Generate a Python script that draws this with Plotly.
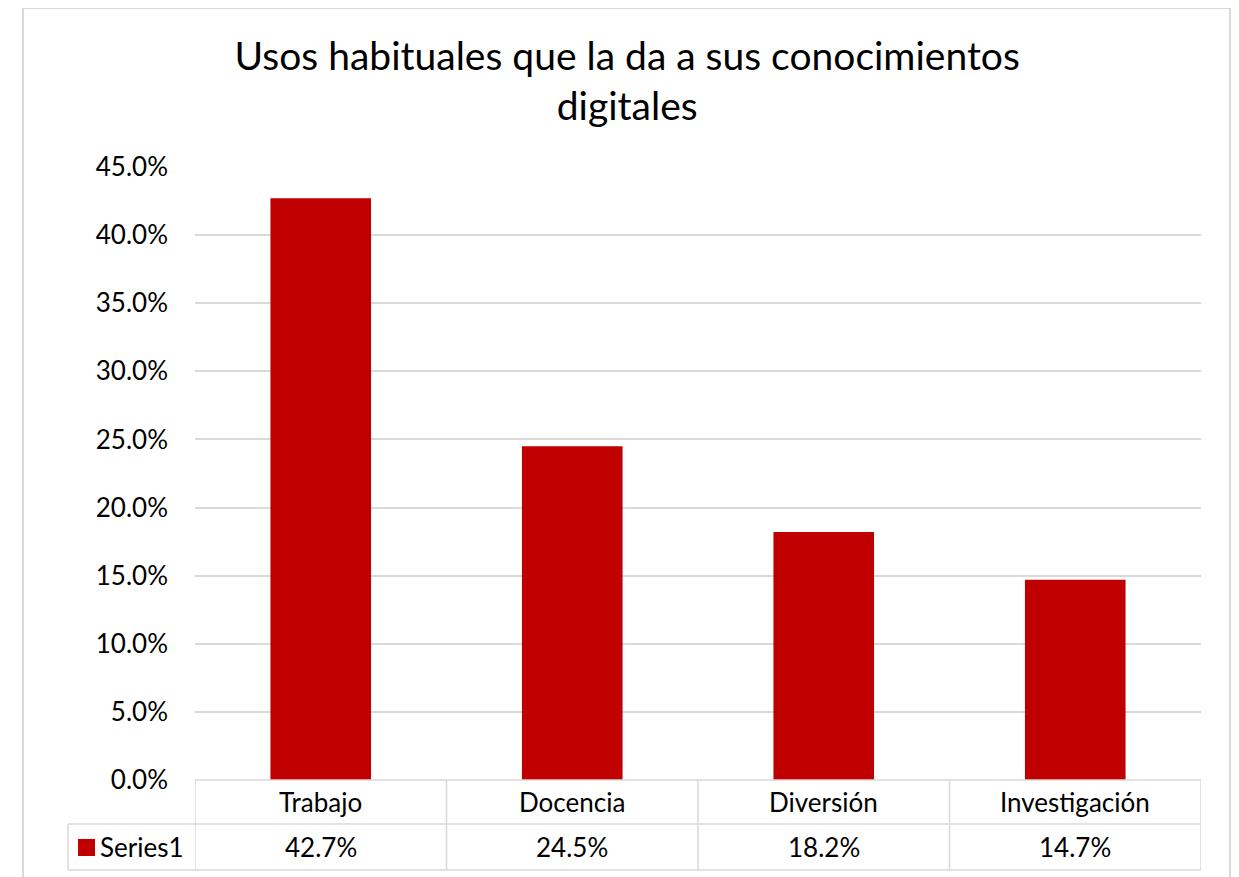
import plotly.graph_objects as go

categories = ['Trabajo', 'Docencia', 'Diversión', 'Investigación']
values = [42.7, 24.5, 18.2, 14.7]
series_name = 'Series1'
title = 'Usos habituales que la da a sus conocimientos<br>digitales'

red = '#C00000'
grid = '#d9d9d9'
font = 'Lato, Open Sans, sans-serif'

# page has an 8px body margin, so the figure is shrunk by that much
W, H = 1231, 869
L, R, T, B = 187, 38, 159, 97
plot_h = H - T - B
plot_w = W - L - R
OX, OY = 8 + L, 8 + T + plot_h  # screen pixel of plot origin


def py(sy):
    # screen pixel row -> paper y
    return (OY - sy) / plot_h


def px_x(sx):
    return (sx - OX) / plot_w


fig = go.Figure()

fig.add_trace(go.Bar(
    x=categories,
    y=values,
    marker=dict(color=red, line=dict(width=0)),
    name=series_name,
    showlegend=False,
    hovertemplate='%{x}: %{y:.1f}%<extra></extra>',
))

shapes = []
annotations = []

# outer chart border
shapes.append(dict(type='rect', xref='paper', yref='paper',
                   x0=px_x(23), x1=px_x(1230), y0=py(900), y1=py(8),
                   line=dict(color=grid, width=2), layer='below'))

# data table
row1_top, row1_bot, row2_bot = 780, 824, 870
n = len(categories)
line = dict(color=grid, width=1.5)
shapes.append(dict(type='line', xref='paper', yref='paper', x0=0, x1=1,
                   y0=py(row1_top), y1=py(row1_top), line=line))
for yy in (row1_bot, row2_bot):
    shapes.append(dict(type='line', xref='paper', yref='paper', x0=px_x(68), x1=1,
                       y0=py(yy), y1=py(yy), line=line))
shapes.append(dict(type='line', xref='paper', yref='paper', x0=px_x(68), x1=px_x(68),
                   y0=py(row1_bot), y1=py(row2_bot), line=line))
for i in range(n + 1):
    shapes.append(dict(type='line', xref='x', yref='paper', x0=i - 0.5, x1=i - 0.5,
                       y0=py(row1_top), y1=py(row2_bot), line=line))

cell_font = dict(size=26, color='#000')
for c, v in zip(categories, values):
    annotations.append(dict(x=c, xref='x', y=py((row1_top + row1_bot) / 2), yref='paper',
                            yanchor='middle', text=c, showarrow=False, font=cell_font))
    annotations.append(dict(x=c, xref='x', y=py((row1_bot + row2_bot) / 2), yref='paper',
                            yanchor='middle', text=f'{v:.1f}%', showarrow=False, font=cell_font))

# legend key in table
shapes.append(dict(type='rect', xref='paper', yref='paper',
                   x0=px_x(78), x1=px_x(95), y0=py(856), y1=py(839),
                   fillcolor=red, line=dict(width=0)))
annotations.append(dict(x=px_x(98), xref='paper', y=py((row1_bot + row2_bot) / 2), yref='paper',
                        text=series_name, xanchor='left', yanchor='middle',
                        showarrow=False, font=cell_font))

fig.update_layout(
    width=W, height=H,
    margin=dict(l=L, r=R, t=T, b=B),
    paper_bgcolor='white', plot_bgcolor='white',
    font=dict(family=font, color='#000'),
    title=dict(text=title, x=0.503, xanchor='center', xref='container',
               y=0.929, yanchor='top', yref='container',
               font=dict(size=39, color='#000', family=font)),
    bargap=0.6,
    shapes=shapes,
    annotations=annotations,
    xaxis=dict(showticklabels=False, showgrid=False, zeroline=False,
               range=[-0.5, n - 0.5]),
    yaxis=dict(range=[0, 45], dtick=5, ticksuffix='%', tickformat='.1f',
               showgrid=True, gridcolor=grid, gridwidth=1.5, zeroline=False,
               ticks='', tickfont=dict(size=26, color='#000'), ticklabelstandoff=26),
)

fig.write_html('out.html')
